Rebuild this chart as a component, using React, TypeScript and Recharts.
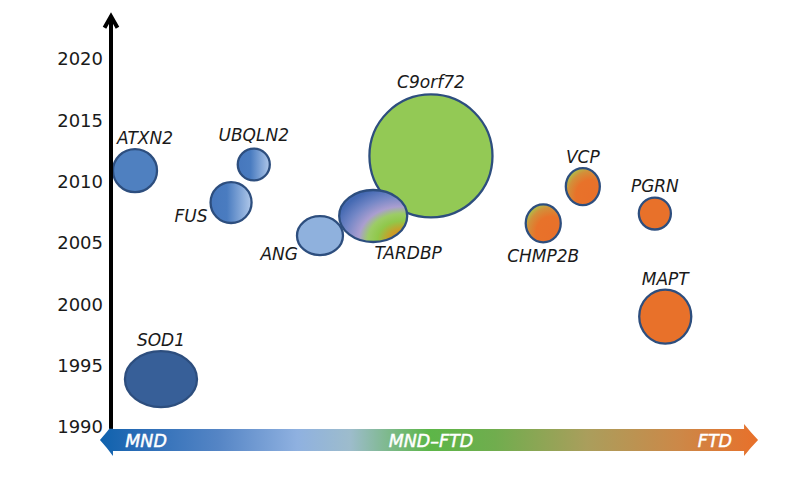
import React from 'react';
import { ScatterChart, XAxis, YAxis, ReferenceArea, ReferenceLine, ReferenceDot, Scatter } from 'recharts';

// ---- data ----
const genes = ['SOD1', 'ATXN2', 'FUS', 'UBQLN2', 'ANG', 'C9orf72', 'TARDBP', 'CHMP2B', 'VCP', 'PGRN', 'MAPT'];
// position along the MND (0) -> FTD (100) spectrum
const spectrum = [7.7, 3.7, 18.5, 22.0, 32.2, 49.3, 40.4, 66.6, 72.7, 83.8, 85.4];
// year of discovery
const years = [1993.9, 2010.9, 2008.3, 2011.4, 2005.6, 2012.1, 2007.2, 2006.6, 2009.6, 2007.4, 1999.0];
// bubble half-extent in spectrum units and in years
const spanSpectrum = [5.55, 3.39, 3.16, 2.47, 3.54, 9.48, 5.24, 2.7, 2.62, 2.47, 4.01];
const spanYears = [2.28, 1.75, 1.67, 1.3, 1.59, 5.01, 2.12, 1.55, 1.51, 1.3, 2.2];

const yearTicks = [1990, 1995, 2000, 2005, 2010, 2015, 2020];
const spectrumLabels = ['MND', 'MND\u2013FTD', 'FTD'];
const spectrumLabelAt = [2.2, 49.3, 95.7];

const bubbles = genes.map((g, i) => ({
  gene: g,
  x: spectrum[i],
  year: years[i],
  sx: spanSpectrum[i],
  sy: spanYears[i],
}));

// ---- styles ----
const FONT = "'DejaVu Sans', 'Open Sans', sans-serif";
const STROKE = '#2d4e7e';

const FILLS: Record<string, string> = {
  SOD1: '#375f98',
  ATXN2: '#4f80c0',
  FUS: 'url(#g-blue-lin-FUS)',
  UBQLN2: 'url(#g-blue-lin-UBQLN2)',
  ANG: '#8fb1dd',
  C9orf72: '#93c955',
  TARDBP: 'url(#g-tardbp)',
  CHMP2B: 'url(#g-go-CHMP2B)',
  VCP: 'url(#g-go-VCP)',
  PGRN: '#e8712a',
  MAPT: '#e8712a',
};

const LABELS: Record<string, { place: 'top' | 'bottom' | 'left'; dx: number; gap: number }> = {
  SOD1: { place: 'top', dx: 0, gap: 5 },
  ATXN2: { place: 'top', dx: 10, gap: 5 },
  FUS: { place: 'left', dx: -3, gap: -1 },
  UBQLN2: { place: 'top', dx: 0, gap: 8 },
  ANG: { place: 'left', dx: 1, gap: 5 },
  C9orf72: { place: 'top', dx: 0, gap: 6 },
  TARDBP: { place: 'bottom', dx: 35, gap: 17 },
  CHMP2B: { place: 'bottom', dx: 0, gap: 20 },
  VCP: { place: 'top', dx: 0, gap: 5 },
  PGRN: { place: 'top', dx: 0, gap: 6 },
  MAPT: { place: 'top', dx: 0, gap: 5 },
};

function Gradient({ gene }: { gene: string }) {
  if (gene === 'FUS' || gene === 'UBQLN2') {
    return (
      <linearGradient id={`g-blue-lin-${gene}`} x1="0" y1="0" x2="1" y2="0">
        <stop offset="0" stopColor="#4677bd" />
        <stop offset="0.4" stopColor="#4a7cc0" />
        <stop offset="1" stopColor="#b0c8ea" />
      </linearGradient>
    );
  }
  if (gene === 'TARDBP') {
    return (
      <radialGradient id="g-tardbp" cx="0.92" cy="0.95" r="1.05" fx="0.92" fy="0.95">
        <stop offset="0" stopColor="#dc8818" />
        <stop offset="0.18" stopColor="#c99e28" />
        <stop offset="0.34" stopColor="#90c84a" />
        <stop offset="0.47" stopColor="#9ccc66" />
        <stop offset="0.6" stopColor="#aa9ed0" />
        <stop offset="0.8" stopColor="#7286c6" />
        <stop offset="1" stopColor="#4469b2" />
      </radialGradient>
    );
  }
  if (gene === 'CHMP2B' || gene === 'VCP') {
    return (
      <radialGradient id={`g-go-${gene}`} cx="0.72" cy="0.75" r="0.95" fx="0.72" fy="0.75">
        <stop offset="0" stopColor="#e8702a" />
        <stop offset="0.45" stopColor="#e8722a" />
        <stop offset="0.7" stopColor="#d2903a" />
        <stop offset="0.88" stopColor="#a8c64c" />
        <stop offset="1" stopColor="#9ccb52" />
      </radialGradient>
    );
  }
  return null;
}

function Bubble(props: any) {
  const { x, y, width, height, gene } = props;
  const cx = x + width / 2;
  const cy = y + height / 2;
  const rx = Math.abs(width / 2);
  const ry = Math.abs(height / 2);
  const lab = LABELS[gene];
  let tx = cx;
  let ty = y;
  let anchor: 'middle' | 'end' = 'middle';
  if (lab.place === 'top') {
    tx = cx + lab.dx;
    ty = y - lab.gap;
  } else if (lab.place === 'bottom') {
    tx = cx + lab.dx;
    ty = y + height + lab.gap;
  } else {
    tx = x + lab.dx;
    ty = y + height + lab.gap;
    anchor = 'end';
  }
  return (
    <g>
      <defs>
        <Gradient gene={gene} />
      </defs>
      <ellipse cx={cx} cy={cy} rx={rx} ry={ry} fill={FILLS[gene]} stroke={STROKE} strokeWidth={2.3} />
      <text
        x={tx}
        y={ty}
        textAnchor={anchor}
        fontFamily={FONT}
        fontStyle="italic"
        fontSize={17}
        fill="#1a1a1a"
      >
        {gene}
      </text>
    </g>
  );
}

function SpectrumArrow(props: any) {
  const { x, y, width, height } = props;
  const top = Math.min(y, y + height);
  const h = Math.abs(height);
  const mid = top + h / 2;
  const hh = h * 0.72;
  const headL = 13;
  const headR = 14;
  const left = x;
  const right = x + width;
  const d = [
    `M${left},${mid}`,
    `Q${left + headL * 0.5},${mid - hh * 0.45} ${left + headL},${mid - hh}`,
    `L${left + headL},${top}`,
    `L${right - headR},${top}`,
    `L${right - headR},${mid - hh}`,
    `Q${right - headR * 0.5},${mid - hh * 0.45} ${right},${mid}`,
    `Q${right - headR * 0.5},${mid + hh * 0.45} ${right - headR},${mid + hh}`,
    `L${right - headR},${top + h}`,
    `L${left + headL},${top + h}`,
    `L${left + headL},${mid + hh}`,
    `Q${left + headL * 0.5},${mid + hh * 0.45} ${left},${mid}`,
    'Z',
  ].join(' ');
  return (
    <g>
      <defs>
        <linearGradient id="g-spectrum" x1="0" y1="0" x2="1" y2="0">
          <stop offset="0" stopColor="#0f62ad" />
          <stop offset="0.06" stopColor="#2a6cb6" />
          <stop offset="0.18" stopColor="#5585c5" />
          <stop offset="0.3" stopColor="#8fb1e0" />
          <stop offset="0.38" stopColor="#9dbccc" />
          <stop offset="0.5" stopColor="#5cb648" />
          <stop offset="0.6" stopColor="#70ad4e" />
          <stop offset="0.74" stopColor="#aa9e5c" />
          <stop offset="0.88" stopColor="#cc8848" />
          <stop offset="1" stopColor="#e8702a" />
        </linearGradient>
      </defs>
      <path d={d} fill="url(#g-spectrum)" />
    </g>
  );
}

function UpArrow(props: any) {
  const { x1, y1, x2, y2 } = props;
  const top = Math.min(y1, y2);
  const bottom = Math.max(y1, y2);
  const x = x1;
  return (
    <g>
      <line x1={x} y1={bottom} x2={x2} y2={top + 3} stroke="#000" strokeWidth={4} />
      <path
        d={`M${x - 6.5},${top + 13} L${x},${top + 1.5} L${x + 6.5},${top + 13}`}
        fill="none"
        stroke="#000"
        strokeWidth={4}
        strokeLinejoin="miter"
        strokeLinecap="butt"
      />
    </g>
  );
}

const SpectrumLabel = (text: string, anchor: 'start' | 'middle' | 'end') => (p: any) => (
  <text
    x={p.cx}
    y={p.cy}
    dy={6.5}
    textAnchor={anchor}
    fontFamily={FONT}
    fontStyle="italic"
    fontSize={17.5}
    fill="#ffffff"
    stroke="#ffffff"
    strokeWidth={0.45}
  >
    {text}
  </text>
);

const anchors: ('start' | 'middle' | 'end')[] = ['start', 'middle', 'end'];

export default function App() {
  return (
    <div style={{ position: 'absolute', left: 0, top: 0, width: 800, height: 479, background: '#fff', fontFamily: FONT }}>
      <ScatterChart width={800} height={479} margin={{ top: 59, right: 40, bottom: 52, left: 51 }}>
        <XAxis type="number" dataKey="x" domain={[0, 100]} hide />
        <YAxis
          type="number"
          dataKey="year"
          domain={[1990, 2020]}
          ticks={yearTicks}
          width={60}
          tickLine={false}
          axisLine={false}
          tickSize={0}
          tickMargin={8}
          tick={{ fontSize: 18, fill: '#1a1a1a', fontFamily: FONT }}
          allowDataOverflow
        />
        <ReferenceLine
          segment={[
            { x: 0, y: 1989.85 },
            { x: 0, y: 2023.6 },
          ]}
          ifOverflow="visible"
          shape={(p: any) => <UpArrow {...p} />}
        />
        <ReferenceArea
          x1={-1.7}
          x2={99.7}
          y1={1988.04}
          y2={1989.84}
          ifOverflow="visible"
          shape={(p: any) => <SpectrumArrow {...p} />}
        />
        {spectrumLabels.map((t, i) => (
          <ReferenceDot
            key={t}
            x={spectrumLabelAt[i]}
            y={1988.94}
            r={0}
            ifOverflow="visible"
            shape={SpectrumLabel(t, anchors[i])}
          />
        ))}
        {bubbles.map((b) => (
          <ReferenceArea
            key={b.gene}
            x1={b.x - b.sx}
            x2={b.x + b.sx}
            y1={b.year - b.sy}
            y2={b.year + b.sy}
            ifOverflow="visible"
            shape={(p: any) => <Bubble {...p} gene={b.gene} />}
          />
        ))}
        <Scatter data={bubbles} dataKey="year" isAnimationActive={false} shape={() => <g />} />
      </ScatterChart>
    </div>
  );
}
